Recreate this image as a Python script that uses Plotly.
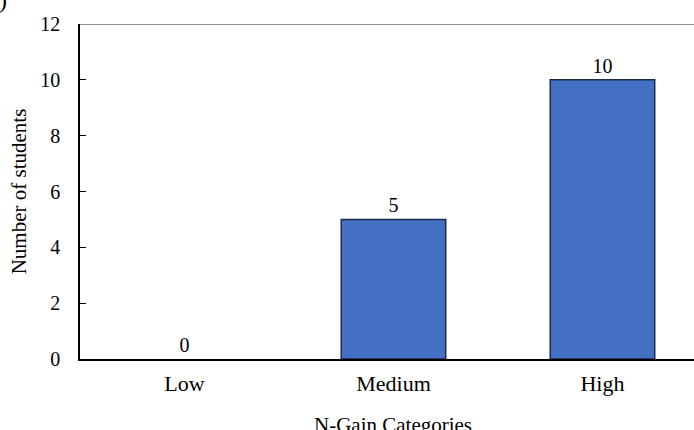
import plotly.graph_objects as go

categories = ["Low", "Medium", "High"]
students = [0, 5, 10]
y_ticks = [0, 2, 4, 6, 8, 10, 12]

FONT = "Liberation Serif, Times New Roman, serif"

fig = go.Figure()
fig.add_trace(go.Bar(
    x=list(range(len(categories))),
    y=students,
    width=0.5,
    marker=dict(color="#4470C4",
                line=dict(color="#1B2A4A", width=[0 if v == 0 else 1.5 for v in students])),
    text=[str(v) for v in students],
    textposition="outside",
    textfont=dict(family=FONT, size=20, color="#000000"),
    cliponaxis=False,
    showlegend=False,
))

# top frame line at the axis maximum
fig.add_shape(type="line", xref="paper", x0=0, x1=1, yref="y", y0=y_ticks[-1], y1=y_ticks[-1],
              line=dict(color="#6E6E6E", width=1.5), layer="below")

# x-axis title centred on the category span
fig.add_annotation(x=1, xref="x", y=-0.156, yref="paper", yanchor="top",
                   text="N-Gain Categories", showarrow=False,
                   font=dict(family=FONT, size=21, color="#000000"))
# cropped panel label fragment
fig.add_annotation(x=-0.135, xref="paper", y=1.027, yref="paper", xanchor="left", yanchor="bottom",
                   text=")", showarrow=False,
                   font=dict(family=FONT, size=24, color="#000000"))

fig.update_layout(
    width=694, height=430,
    margin=dict(l=80, r=0, t=24, b=71),
    paper_bgcolor="white", plot_bgcolor="white",
    font=dict(family=FONT, color="#000000"),
)
fig.update_xaxes(
    range=[-0.5, 2.438],
    tickvals=list(range(len(categories))),
    ticktext=categories,
    tickfont=dict(family=FONT, size=22, color="#000000"),
    showline=True, linecolor="#000000", linewidth=1.5,
    ticks="", showgrid=False, zeroline=False,
    ticklabelstandoff=4,
)
fig.update_yaxes(
    range=[0, 12],
    tickvals=y_ticks,
    tickfont=dict(family=FONT, size=20, color="#000000"),
    showline=True, linecolor="#000000", linewidth=1.5,
    ticks="inside", ticklen=6, tickcolor="#000000", tickwidth=1,
    showgrid=False, zeroline=False,
    ticklabelstandoff=14,
    title=dict(text="Number of students", font=dict(family=FONT, size=21, color="#000000"), standoff=8),
)

fig.write_html("out.html", config={"displayModeBar": False},
               post_script="document.body.style.margin='0';")
